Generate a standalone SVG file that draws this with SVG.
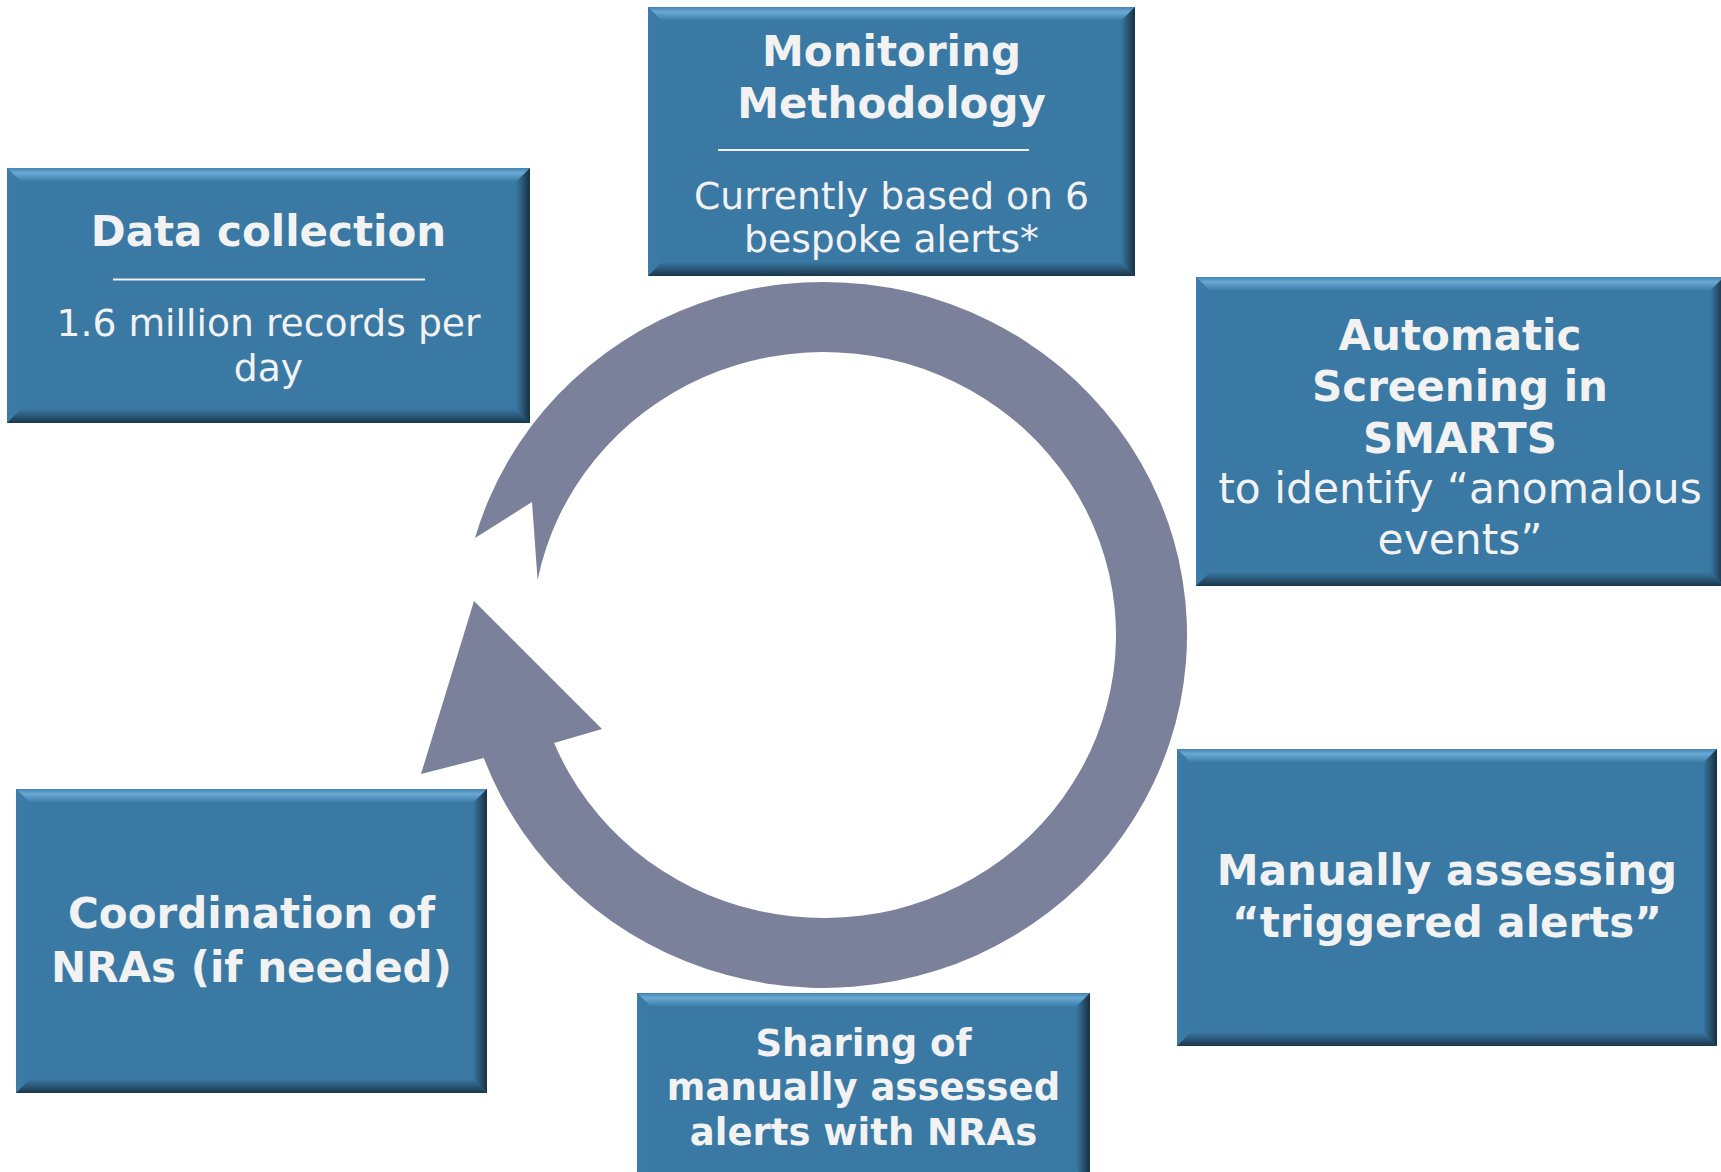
<svg xmlns="http://www.w3.org/2000/svg" width="1721" height="1172" viewBox="0 0 1721 1172">
<defs>
<linearGradient id="gTop" x1="0" y1="0" x2="0" y2="1">
<stop offset="0" stop-color="#4482B0"/><stop offset="0.35" stop-color="#6BA9D5"/><stop offset="1" stop-color="#3A79A4"/>
</linearGradient>
<linearGradient id="gBot" x1="0" y1="0" x2="0" y2="1">
<stop offset="0" stop-color="#3A79A4"/><stop offset="1" stop-color="#1B364A"/>
</linearGradient>
<linearGradient id="gRight" x1="0" y1="0" x2="1" y2="0">
<stop offset="0" stop-color="#3A79A4"/><stop offset="1" stop-color="#16303F"/>
</linearGradient>
<linearGradient id="gLeft" x1="0" y1="0" x2="1" y2="0">
<stop offset="0" stop-color="#3D7CA8"/><stop offset="1" stop-color="#3A79A4"/>
</linearGradient>
</defs>
<style>
.base{fill:#3A79A4}
.bt{fill:url(#gTop)}
.bb{fill:url(#gBot)}
.br{fill:url(#gRight)}
.bl{fill:url(#gLeft)}
.sep{stroke:#F2F2F2;stroke-width:2}
text{font-family:"DejaVu Sans",Verdana,sans-serif;fill:#F2F2F2;text-anchor:middle}
.h{font-weight:bold;font-size:42px}
.h5{font-weight:bold;font-size:37px}
.r{font-size:37.7px}
.r3{font-size:42.4px}
.ring{fill:#7B819B}
</style>
<rect width="1721" height="1172" fill="#FFFFFF"/>

<g id="connectors">
<path class="ring" d="M 475,538 A 363 353 0 1 1 483.8,758 L 421,774 L 474,601 L 602,729 L 554.1,743 A 292 283 0 1 0 537.6,580 L 532,502 Z"/>
</g>

<g id="data-collection">
<rect class="base" x="7" y="168" width="523" height="255"/>
<polygon class="bt" points="7,168 530,168 516,182 21,182"/>
<polygon class="bl" points="7,168 21,182 21,409 7,423"/>
<polygon class="br" points="530,168 530,423 516,409 516,182"/>
<polygon class="bb" points="7,423 530,423 516,409 21,409"/>
<text class="h" x="268.5" y="246">Data collection</text>
<line class="sep" x1="113" y1="279.5" x2="425" y2="279.5"/>
<text class="r" x="268.5" y="336">1.6 million records per</text>
<text class="r" x="268.5" y="381">day</text>
</g>

<g id="monitoring-methodology">
<rect class="base" x="648" y="7" width="487" height="269"/>
<polygon class="bt" points="648,7 1135,7 1121,21 662,21"/>
<polygon class="bl" points="648,7 662,21 662,262 648,276"/>
<polygon class="br" points="1135,7 1135,276 1121,262 1121,21"/>
<polygon class="bb" points="648,276 1135,276 1121,262 662,262"/>
<text class="h" x="891.5" y="66">Monitoring</text>
<text class="h" x="891.5" y="118">Methodology</text>
<line class="sep" x1="718" y1="150" x2="1029" y2="150"/>
<text class="r" x="891.5" y="209">Currently based on 6</text>
<text class="r" x="891.5" y="252">bespoke alerts*</text>
</g>

<g id="automatic-screening">
<rect class="base" x="1196" y="277" width="528" height="309"/>
<polygon class="bt" points="1196,277 1724,277 1710,291 1210,291"/>
<polygon class="bl" points="1196,277 1210,291 1210,572 1196,586"/>
<polygon class="br" points="1724,277 1724,586 1710,572 1710,291"/>
<polygon class="bb" points="1196,586 1724,586 1710,572 1210,572"/>
<text class="h" x="1460" y="350">Automatic</text>
<text class="h" x="1460" y="401">Screening in</text>
<text class="h" x="1460" y="453">SMARTS</text>
<text class="r3" x="1460" y="503">to identify “anomalous</text>
<text class="r3" x="1460" y="554">events”</text>
</g>

<g id="manually-assessing">
<rect class="base" x="1177" y="749" width="540" height="297"/>
<polygon class="bt" points="1177,749 1717,749 1703,763 1191,763"/>
<polygon class="bl" points="1177,749 1191,763 1191,1032 1177,1046"/>
<polygon class="br" points="1717,749 1717,1046 1703,1032 1703,763"/>
<polygon class="bb" points="1177,1046 1717,1046 1703,1032 1191,1032"/>
<text class="h" x="1447" y="885">Manually assessing</text>
<text class="h" x="1447" y="937">“triggered alerts”</text>
</g>

<g id="sharing">
<rect class="base" x="637" y="993" width="453" height="190"/>
<polygon class="bt" points="637,993 1090,993 1076,1007 651,1007"/>
<polygon class="bl" points="637,993 651,1007 651,1169 637,1183"/>
<polygon class="br" points="1090,993 1090,1183 1076,1169 1076,1007"/>
<text class="h5" x="863.5" y="1056">Sharing of</text>
<text class="h5" x="863.5" y="1100">manually assessed</text>
<text class="h5" x="863.5" y="1145">alerts with NRAs</text>
</g>

<g id="coordination">
<rect class="base" x="16" y="789" width="471" height="304"/>
<polygon class="bt" points="16,789 487,789 473,803 30,803"/>
<polygon class="bl" points="16,789 30,803 30,1079 16,1093"/>
<polygon class="br" points="487,789 487,1093 473,1079 473,803"/>
<polygon class="bb" points="16,1093 487,1093 473,1079 30,1079"/>
<text class="h" x="251.5" y="928">Coordination of</text>
<text class="h" x="251.5" y="982">NRAs (if needed)</text>
</g>
</svg>
